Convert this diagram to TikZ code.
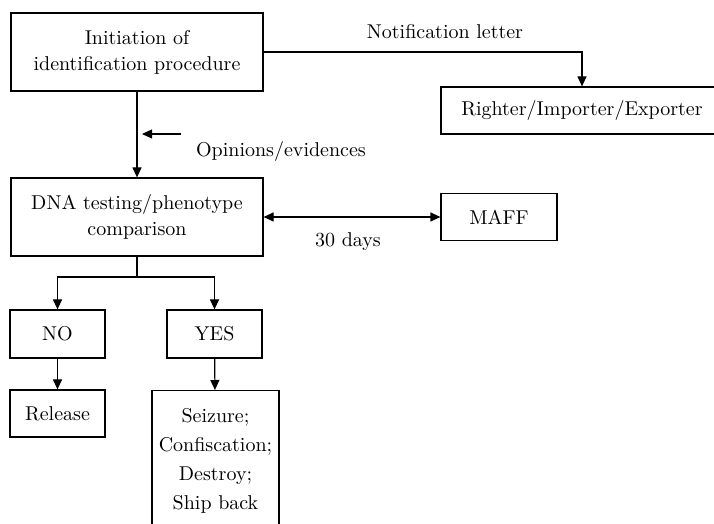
\documentclass[tikz,border=0pt]{standalone}
\usepackage{tikz}
\usetikzlibrary{positioning}
\usetikzlibrary{arrows.meta}
\tikzset{
    mybox/.style = {rectangle, draw=black, line width=0.6pt, align=center, inner sep=2pt, font=\fontsize{10}{13}\selectfont},
    mylabel/.style = {inner sep=0pt, align=center, font=\fontsize{10}{13}\selectfont},
    edgen/.style = {-, line width=0.6pt, black},
    edgea/.style = {-{Triangle[length=5pt,width=4.5pt]}, line width=0.6pt, black},
    edged/.style = {{Triangle[length=5pt,width=4.5pt]}-{Triangle[length=5pt,width=4.5pt]}, line width=0.6pt, black}
}

\begin{document}
\begin{tikzpicture}[x=0.5pt,y=-0.5pt]
\useasboundingbox (0,0) rectangle (714,524);
\clip (0,0) rectangle (714,524);

\node[mybox, minimum width=126pt, minimum height=39pt] at (137, 52) (init) {Initiation of\\identification procedure};
\node[mybox, minimum width=141pt, minimum height=23.5pt] at (582, 110.5) (righter) {Righter/Importer/Exporter};
\node[mybox, minimum width=126pt, minimum height=39pt] at (137, 217) (dna) {DNA testing/phenotype\\comparison};
\node[mybox, minimum width=58pt, minimum height=23.5pt] at (499, 217) (maff) {MAFF};
\node[mybox, minimum width=47.5pt, minimum height=24pt] at (57.5, 334) (no) {NO};
\node[mybox, minimum width=47.5pt, minimum height=24pt] at (214.5, 334) (yes) {YES};
\node[mybox, minimum width=47.5pt, minimum height=23.5pt] at (57.5, 413.5) (release) {Release};
\node[mybox, minimum width=63.5pt, minimum height=70pt, anchor=north, font=\fontsize{10}{14.5}\selectfont] at (215.5, 390) (seizure) {Seizure;\\Confiscation;\\Destroy;\\Ship back};

\node[mylabel] at (445, 32) (notif) {Notification letter};
\node[mylabel] at (281, 152) (opin) {Opinions/evidences};
\node[mylabel] at (348, 242) (days) {30 days};

\coordinate (opa) at (181, 134);
\coordinate (opb) at (142, 134);
\coordinate (split) at (137, 277);

\draw[edgea] (init.east) -| (righter.north);
\draw[edgea] (init) -- (dna);
\draw[edgea] (opa) -- (opb);
\draw[edged] (dna.east) -- (maff.west);
\draw[edgen] (dna.south) -- (split);
\draw[edgea] (split) -| (no.north);
\draw[edgea] (split) -| (yes.north);
\draw[edgea] (no) -- (release);
\draw[edgea] (yes) -- (seizure);

\end{tikzpicture}
\end{document}
